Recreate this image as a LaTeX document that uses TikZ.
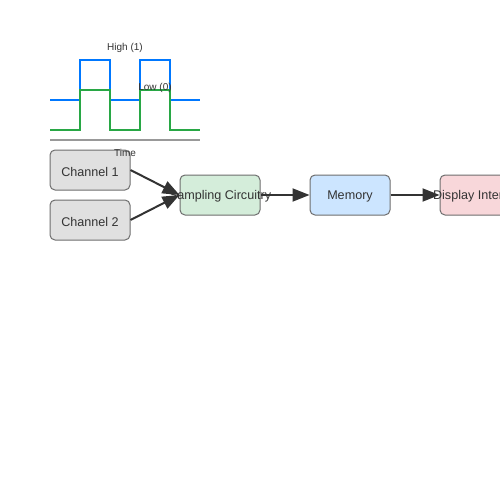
\documentclass[tikz,border=0pt]{standalone}
\usepackage{fontspec}
\setmainfont{Liberation Sans}
\usetikzlibrary{arrows.meta}
\definecolor{sigblue}{RGB}{0,120,255}
\definecolor{siggreen}{RGB}{40,167,69}
\definecolor{axisgray}{RGB}{153,153,153}
\definecolor{txt}{RGB}{51,51,51}
\definecolor{edge}{RGB}{110,110,110}
\definecolor{chfill}{RGB}{224,224,224}
\definecolor{sampfill}{RGB}{212,237,218}
\definecolor{memfill}{RGB}{204,229,255}
\definecolor{dispfill}{RGB}{248,215,218}
\begin{document}
\begin{tikzpicture}[x=1pt,y=-1pt,
  blk/.style={draw=edge,line width=1pt,rounded corners=5pt,minimum width=80pt,minimum height=40pt,inner sep=0pt},
  lbl/.style={text=txt,font=\fontsize{12.6}{14}\selectfont,inner sep=0pt,yshift=-1.5pt},
  small/.style={text=txt,font=\fontsize{10}{12}\selectfont,inner sep=0pt,yshift=-1.5pt},
  conn/.style={draw=txt,line width=2pt,-{Triangle[length=17pt,width=13pt]}}]
\useasboundingbox (0,0) rectangle (500,500);
\clip (0,0) rectangle (500,500);
\fill[white] (0,0) rectangle (500,500);
% waveforms
\draw[sigblue,line width=2pt] (50,100) -- (80,100) -- (80,60) -- (110,60) -- (110,100) -- (140,100) -- (140,60) -- (170,60) -- (170,100) -- (200,100);
\draw[siggreen,line width=2pt] (50,130) -- (80,130) -- (80,90) -- (110,90) -- (110,130) -- (140,130) -- (140,90) -- (170,90) -- (170,130) -- (200,130);
\draw[axisgray,line width=2pt] (50,140) -- (200,140);
\node[small] (high) at (125,46) {High (1)};
\node[small] (low) at (155,86) {Low (0)};
% blocks
\node[blk,fill=chfill] (ch1) at (90,170) {};
\node[lbl] at (ch1.center) {Channel 1};
\node[blk,fill=chfill] (ch2) at (90,220) {};
\node[lbl] at (ch2.center) {Channel 2};
\node[blk,fill=sampfill] (samp) at (220,195) {};
\node[blk,fill=memfill] (mem) at (350,195) {};
\node[lbl] at (mem.center) {Memory};
\node[blk,fill=dispfill] (disp) at (480,195) {};
\node[small] (time) at (125,151) {Time};
% connectors
\draw[conn] (ch1.east) -- (samp.west);
\draw[conn] (ch2.east) -- (samp.west);
\draw[conn] (samp.east) -- (mem.west);
\draw[conn] (mem.east) -- (disp.west);
\node[lbl] at (samp.center) {Sampling Circuitry};
\node[lbl] at (disp.center) {Display Interface};
\end{tikzpicture}
\end{document}
